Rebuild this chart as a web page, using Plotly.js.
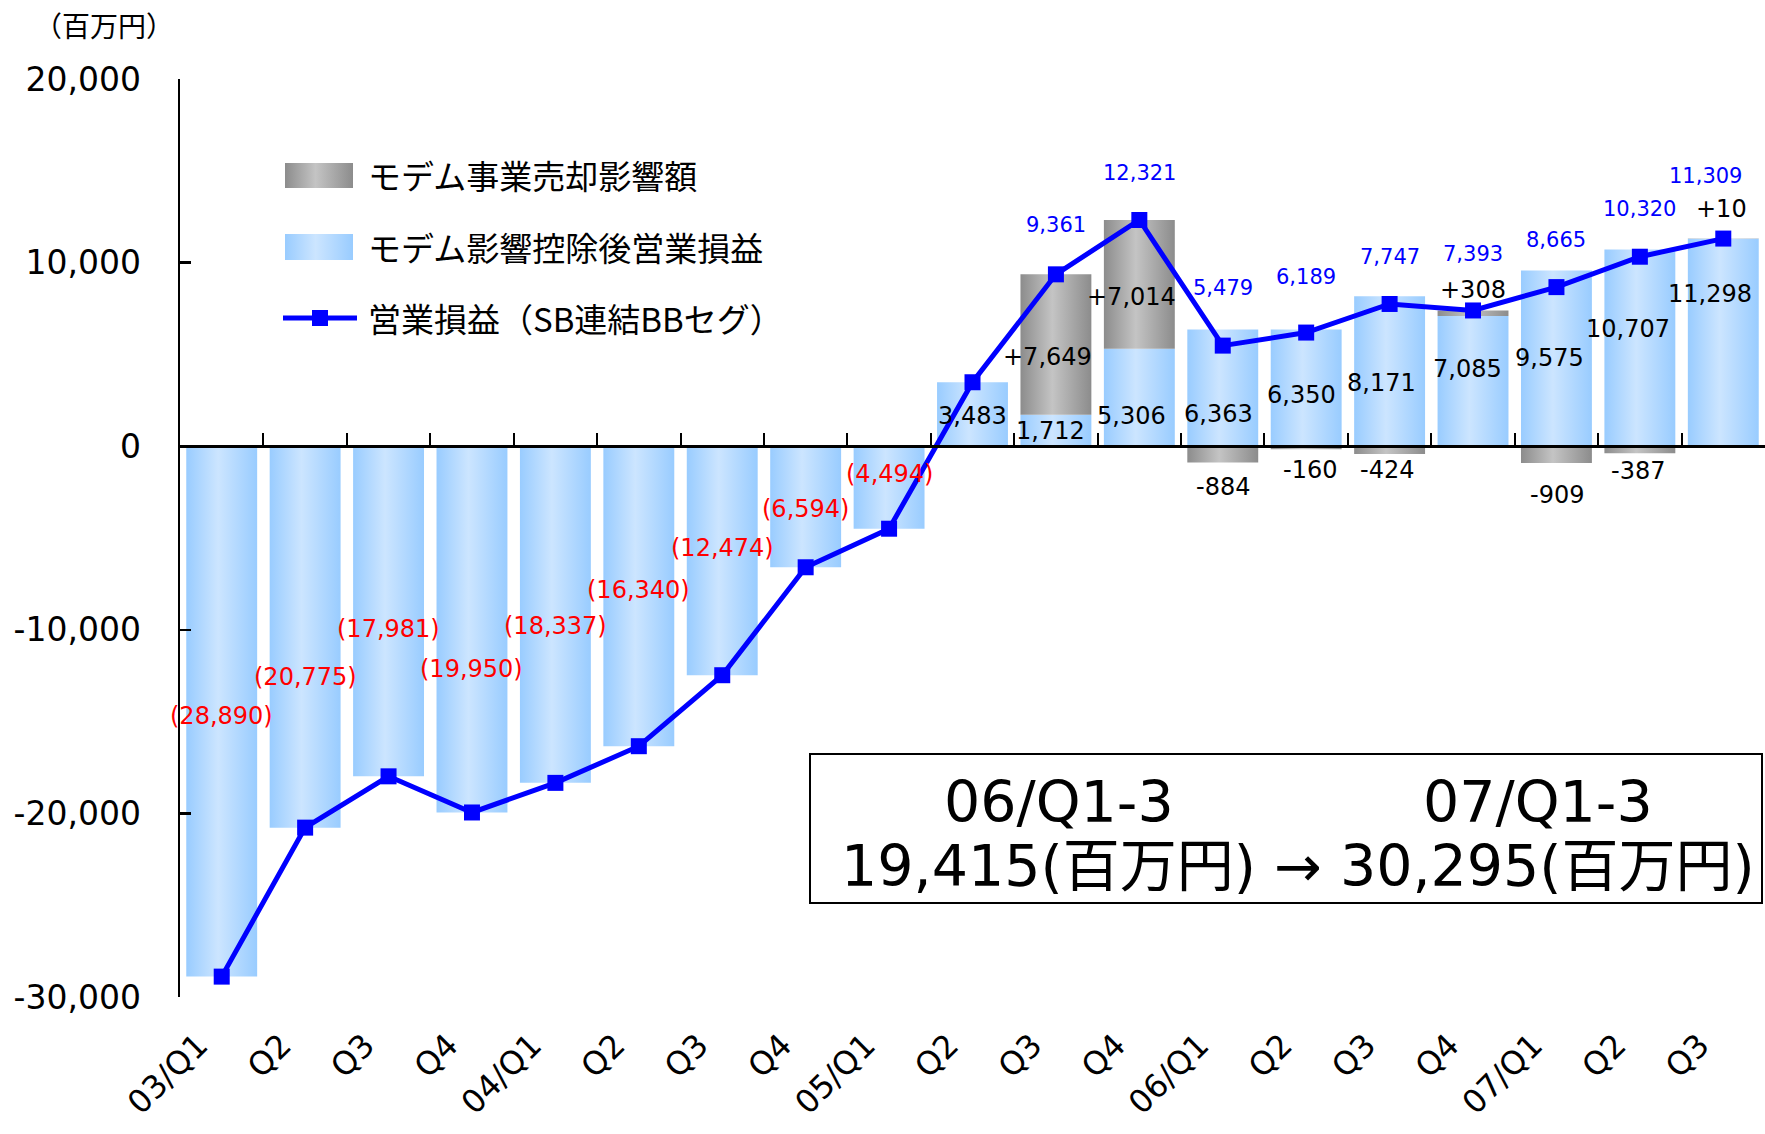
<!DOCTYPE html>
<html>
<head>
<meta charset="utf-8">
<script src="https://cdn.plot.ly/plotly-3.0.1.min.js"></script>
<style>
  html, body { margin: 0; padding: 0; background: #ffffff; }
  #chart { width: 1765px; height: 1134px; }
</style>
</head>
<body>
<div id="chart"></div>
<script>
// ---------------- DATA ----------------
const quarters = ['03/Q1','Q2','Q3','Q4','04/Q1','Q2','Q3','Q4','05/Q1','Q2','Q3','Q4','06/Q1','Q2','Q3','Q4','07/Q1','Q2','Q3'];
// 営業損益（SB連結BBセグ）
const opProfit = [-28890,-20775,-17981,-19950,-18337,-16340,-12474,-6594,-4494,3483,9361,12321,5479,6189,7747,7393,8665,10320,11309];
// モデム影響控除後営業損益
const exModem = [-28890,-20775,-17981,-19950,-18337,-16340,-12474,-6594,-4494,3483,1712,5306,6363,6350,8171,7085,9575,10707,11298];
// モデム事業売却影響額
const modemImpact = [null,null,null,null,null,null,null,null,null,null,7649,7014,-884,-160,-424,308,-909,-387,10];
const seriesNames = ['モデム事業売却影響額','モデム影響控除後営業損益','営業損益（SB連結BBセグ）'];
const summaryPeriods = ['06/Q1-3','07/Q1-3'];
const summaryTotals = [19415, 30295];
const yTicks = [-30000,-20000,-10000,0,10000,20000];
const unitLabel = '（百万円）';

// ---------------- LAYOUT CONSTANTS ----------------
const W = 1765, H = 1134;
const M = {l: 180, r: 0, t: 79, b: 137};
const PW = W - M.l - M.r, PH = H - M.t - M.b;
const px2x = p => (p - M.l) / PW;
const py2y = p => (H - M.b - p) / PH;
const FONT = 'DejaVu Sans, Noto Sans CJK JP, sans-serif';
const CJK = 'Noto Sans CJK JP, DejaVu Sans, sans-serif';
const BLUE = '#0000FF', RED = '#FF0000';
const TICK_LABEL_NUDGE = -0.28;   // rotated category labels sit slightly left of the category centre

// label pixel offsets (vertical shift from the mark end, + = up), and small horizontal nudges
const negLabelShift = [261,151,147,143,157,156,127,58,55];
const lineLabelShift = {10:49,11:47,12:58,13:56,14:47,15:56,16:47,17:48,18:63};
const lineLabelX = {18:-18};
const barLabelShift = {9:-34,10:-16,11:-67,12:-85,13:-65,14:-87,15:-53,16:-88,17:-79,18:-55};
const barLabelX = {9:0,10:-5,11:-8,12:-4,13:-5,14:-8,15:-6,16:-7,17:-12,18:-13};
const modemLabelShift = {10:-83,11:-77,12:-25,13:-21,14:-16,15:20,16:-32,17:-18,18:30};
const modemLabelX = {10:-8,11:-8,12:0,13:4,14:-3,15:0,16:1,17:-2,18:-2};

const fmt = v => Math.abs(v).toLocaleString('en-US');
const idx = quarters.map((_, i) => i);

// ---------------- TRACES ----------------
const traces = [
  {
    type: 'bar', name: seriesNames[1], x: idx, y: exModem,
    marker: {color: '#B3D9FF', line: {width: 0}}, showlegend: false, hoverinfo: 'skip'
  },
  {
    type: 'bar', name: seriesNames[0], x: idx, y: modemImpact,
    marker: {color: '#A8A8A8', line: {width: 0}}, showlegend: false, hoverinfo: 'skip'
  },
  {
    type: 'scatter', mode: 'lines+markers', name: seriesNames[2], x: idx, y: opProfit,
    line: {color: BLUE, width: 5}, marker: {symbol: 'square', size: 16, color: BLUE},
    showlegend: false, hoverinfo: 'skip', cliponaxis: false
  },
  { type: 'scatter', x: [], y: [], xaxis: 'x2', yaxis: 'y', showlegend: false, hoverinfo: 'skip' }
];

// ---------------- ANNOTATIONS ----------------
const ann = [];
// negative results (red, in parentheses)
opProfit.forEach((v, i) => {
  if (v < 0) {
    ann.push({x: i, y: v, xref: 'x', yref: 'y', text: '(' + fmt(v) + ')', showarrow: false,
      yshift: negLabelShift[i], font: {family: FONT, size: 24, color: RED}});
  }
});
// operating profit labels above line (blue)
opProfit.forEach((v, i) => {
  if (v > 0 && modemImpact[i] !== null) {
    ann.push({x: i, y: v, xref: 'x', yref: 'y', text: v.toLocaleString('en-US'), showarrow: false,
      yshift: lineLabelShift[i], xshift: lineLabelX[i] || 0, font: {family: FONT, size: 21, color: BLUE}});
  }
});
// ex-modem bar labels (black)
exModem.forEach((v, i) => {
  if (v > 0) {
    ann.push({x: i, y: v, xref: 'x', yref: 'y', text: v.toLocaleString('en-US'), showarrow: false,
      yshift: barLabelShift[i], xshift: barLabelX[i] || 0, font: {family: FONT, size: 24, color: '#000000'}});
  }
});
// modem impact labels (black, signed)
modemImpact.forEach((v, i) => {
  if (v === null) return;
  const anchor = v > 0 ? exModem[i] + v : v;
  ann.push({x: i, y: anchor, xref: 'x', yref: 'y', text: (v > 0 ? '+' : '-') + fmt(v), showarrow: false,
    yshift: modemLabelShift[i], xshift: modemLabelX[i] || 0, font: {family: FONT, size: 24, color: '#000000'}});
});
// unit label
ann.push({x: px2x(104), y: py2y(25), xref: 'paper', yref: 'paper', text: unitLabel, showarrow: false,
  xanchor: 'center', yanchor: 'middle', font: {family: CJK, size: 28, color: '#000000'}});
// legend texts
const legendRows = [175, 247, 318];
seriesNames.forEach((n, k) => {
  ann.push({x: px2x(366), y: py2y(legendRows[k]), xref: 'paper', yref: 'paper', text: n, showarrow: false,
    xanchor: 'left', yanchor: 'middle', font: {family: CJK, size: 33, color: '#000000'}});
});
// summary box texts
ann.push({x: px2x(1059), y: py2y(802), xref: 'paper', yref: 'paper', text: summaryPeriods[0], showarrow: false,
  xanchor: 'center', yanchor: 'middle', font: {family: FONT, size: 57, color: '#000000'}});
ann.push({x: px2x(1538), y: py2y(802), xref: 'paper', yref: 'paper', text: summaryPeriods[1], showarrow: false,
  xanchor: 'center', yanchor: 'middle', font: {family: FONT, size: 57, color: '#000000'}});
ann.push({x: px2x(1298), y: py2y(866), xref: 'paper', yref: 'paper',
  text: summaryTotals[0].toLocaleString('en-US') + '(百万円) → ' + summaryTotals[1].toLocaleString('en-US') + '(百万円)',
  showarrow: false, xanchor: 'center', yanchor: 'middle', font: {family: FONT, size: 57, color: '#000000'}});

// ---------------- SHAPES (legend symbols + summary box) ----------------
const shapes = [
  {type: 'rect', xref: 'paper', yref: 'paper', x0: px2x(285), x1: px2x(353), y0: py2y(163), y1: py2y(188),
    fillcolor: '#A8A8A8', line: {width: 0}, layer: 'above'},
  {type: 'rect', xref: 'paper', yref: 'paper', x0: px2x(285), x1: px2x(353), y0: py2y(234), y1: py2y(260),
    fillcolor: '#B3D9FF', line: {width: 0}, layer: 'above'},
  {type: 'line', xref: 'paper', yref: 'paper', x0: px2x(283), x1: px2x(357), y0: py2y(318), y1: py2y(318),
    line: {color: BLUE, width: 5}, layer: 'above'},
  {type: 'rect', xref: 'paper', yref: 'paper', x0: px2x(312), x1: px2x(328), y0: py2y(310), y1: py2y(326),
    fillcolor: BLUE, line: {width: 0}, layer: 'above'},
  {type: 'rect', xref: 'paper', yref: 'paper', x0: px2x(810), x1: px2x(1762), y0: py2y(754), y1: py2y(903),
    fillcolor: '#FFFFFF', line: {color: '#000000', width: 2}, layer: 'below'}
];

const layout = {
  width: W, height: H,
  margin: M,
  paper_bgcolor: '#FFFFFF', plot_bgcolor: 'rgba(0,0,0,0)',
  barmode: 'relative', bargap: 0.15,
  showlegend: false,
  font: {family: FONT, color: '#000000'},
  xaxis: {
    range: [-0.5, 18.5], tickmode: 'array', tickvals: idx.map(i => i + TICK_LABEL_NUDGE), ticktext: quarters,
    tickangle: -45, showline: false, showgrid: false, zeroline: false, ticks: '',
    ticklabelstandoff: 22, tickfont: {family: FONT, size: 32, color: '#000000'}, fixedrange: true
  },
  xaxis2: {
    overlaying: 'x', anchor: 'free', position: 0.6, range: [-0.5, 18.5],
    tickmode: 'linear', tick0: -0.5, dtick: 1, ticks: 'inside', ticklen: 12, tickwidth: 2, tickcolor: '#000',
    showline: true, linecolor: '#000000', linewidth: 2.5, showticklabels: false, showgrid: false, zeroline: false
  },
  yaxis: {
    range: [-30000, 20000], tickmode: 'array', tickvals: yTicks,
    ticktext: yTicks.map(v => (v < 0 ? '-' : '') + fmt(v)),
    ticks: 'inside', ticklen: 11, tickwidth: 2.5, tickcolor: '#000',
    showline: true, linecolor: '#000000', linewidth: 2.5, showgrid: false, zeroline: false,
    ticklabelstandoff: 30, tickfont: {family: FONT, size: 33, color: '#000000'}, fixedrange: true
  },
  annotations: ann,
  shapes: shapes
};

function addGradient(svg, id, edge, mid) {
  const ns = 'http://www.w3.org/2000/svg';
  let defs = svg.querySelector('defs');
  if (!defs) { defs = document.createElementNS(ns, 'defs'); svg.insertBefore(defs, svg.firstChild); }
  const g = document.createElementNS(ns, 'linearGradient');
  g.setAttribute('id', id);
  g.setAttribute('x1', '0'); g.setAttribute('y1', '0'); g.setAttribute('x2', '1'); g.setAttribute('y2', '0');
  [[0, edge], [0.45, mid], [1, edge]].forEach(([o, c]) => {
    const s = document.createElementNS(ns, 'stop');
    s.setAttribute('offset', o); s.setAttribute('stop-color', c);
    g.appendChild(s);
  });
  defs.appendChild(g);
}

Plotly.newPlot('chart', traces, layout, {staticPlot: true, displayModeBar: false}).then(gd => {
  const svg = gd.querySelector('.main-svg');
  addGradient(svg, 'gradBlue', '#99CCFF', '#CCE5FF');
  addGradient(svg, 'gradGray', '#8C8C8C', '#C4C4C4');
  const barTraces = gd.querySelectorAll('.barlayer .trace');
  if (barTraces[0]) barTraces[0].querySelectorAll('path').forEach(p => p.style.fill = 'url(#gradBlue)');
  if (barTraces[1]) barTraces[1].querySelectorAll('path').forEach(p => p.style.fill = 'url(#gradGray)');
  gd.querySelectorAll('.shapelayer path[data-index="0"]').forEach(p => p.style.fill = 'url(#gradGray)');
  gd.querySelectorAll('.shapelayer path[data-index="1"]').forEach(p => p.style.fill = 'url(#gradBlue)');
});
</script>
</body>
</html>
